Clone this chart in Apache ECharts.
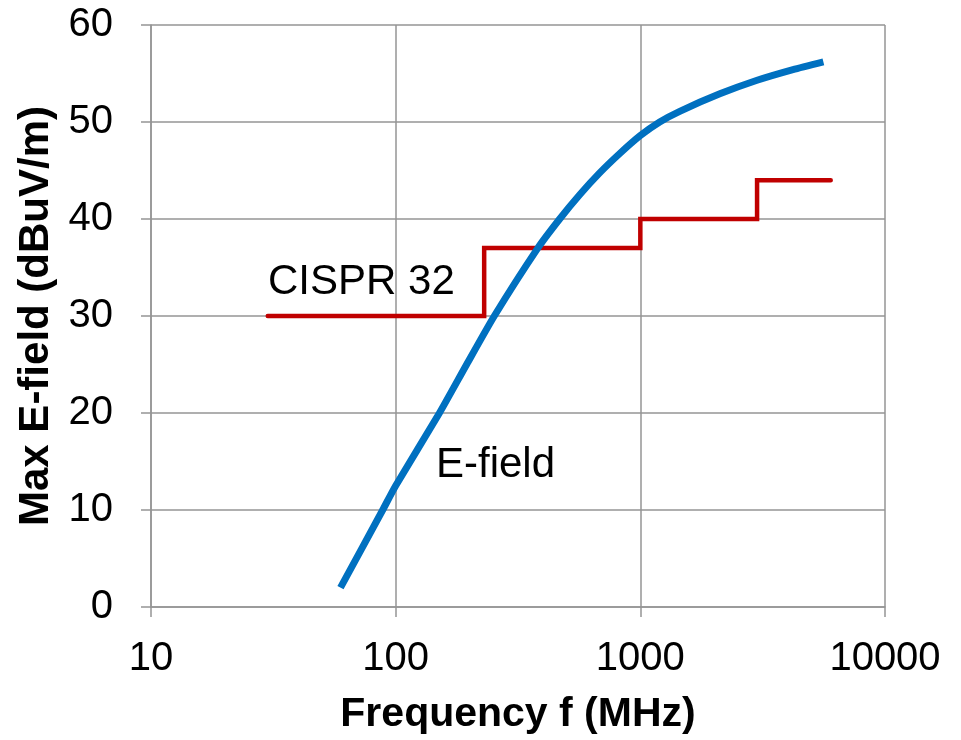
<!DOCTYPE html>
<html>
<head>
<meta charset="utf-8">
<script src="https://cdn.jsdelivr.net/npm/echarts@6/dist/echarts.min.js"></script>
<style>
html,body{margin:0;padding:0;background:#fff;}
#chart{width:961px;height:740px;}
</style>
</head>
<body>
<div id="chart"></div>
<script>
// E-field curve (frequency MHz, dBuV/m)
var efieldFreq = [59.5, 88.5, 100, 151, 195, 253, 381, 468, 565, 682, 824, 1000, 1200, 1449, 2113, 3000, 4207, 5600];
var efieldLevel = [2.0, 10, 12.5, 20, 25.0, 30, 37, 40, 42.5, 44.75, 46.75, 48.6, 50, 51.1, 52.9, 54.3, 55.4, 56.2];
// CISPR 32 limit (step line)
var cisprFreq = [30, 230, 230, 1000, 1000, 3000, 3000, 6000];
var cisprLimit = [30, 30, 37, 37, 40, 40, 44, 44];
var xTicks = [10, 100, 1000, 10000];
var yTicks = [0, 10, 20, 30, 40, 50, 60];

function pairs(xs, ys) { return xs.map(function (x, i) { return [x, ys[i]]; }); }

var font = "'Liberation Sans', Arial, sans-serif";
var gridColor = '#959595';
var chart = echarts.init(document.getElementById('chart'));
chart.setOption({
  animation: false,
  backgroundColor: '#ffffff',
  grid: { left: 151, right: 76, top: 25, bottom: 130, containLabel: false },
  xAxis: {
    type: 'log', logBase: 10, min: xTicks[0], max: xTicks[xTicks.length - 1],
    name: 'Frequency f (MHz)', nameLocation: 'middle', nameGap: 87,
    nameTextStyle: { fontFamily: font, fontSize: 41, fontWeight: 'bold', color: '#000' },
    axisLine: { show: true, onZero: false, lineStyle: { color: gridColor, width: 1.5 } },
    axisTick: { show: true, length: 10, lineStyle: { color: gridColor, width: 1.5 } },
    minorTick: { show: false },
    axisLabel: { fontFamily: font, fontSize: 40, color: '#000', margin: 32,
      formatter: function (v) { return String(Math.round(v)); } },
    splitLine: { show: true, lineStyle: { color: gridColor, width: 1.5 } }
  },
  yAxis: {
    type: 'value', min: yTicks[0], max: yTicks[yTicks.length - 1], interval: 10,
    name: 'Max E-field (dBuV/m)', nameLocation: 'middle', nameGap: 91,
    nameTextStyle: { fontFamily: font, fontSize: 42, fontWeight: 'bold', color: '#000' },
    axisLine: { show: true, lineStyle: { color: gridColor, width: 1.5 } },
    axisTick: { show: true, length: 10, lineStyle: { color: gridColor, width: 1.5 } },
    axisLabel: { fontFamily: font, fontSize: 40, color: '#000', margin: 38 },
    splitLine: { show: true, lineStyle: { color: gridColor, width: 1.5 } }
  },
  series: [
    {
      name: 'CISPR 32', type: 'line', data: pairs(cisprFreq, cisprLimit),
      showSymbol: false, symbol: 'none',
      lineStyle: { color: '#C00000', width: 4.5, cap: 'round', join: 'miter' },
      z: 3
    },
    {
      name: 'E-field', type: 'line', data: pairs(efieldFreq, efieldLevel),
      showSymbol: false, symbol: 'none', smooth: 0.2,
      lineStyle: { color: '#0070C0', width: 7, join: 'round' },
      z: 4
    }
  ],
  graphic: [
    { type: 'text', left: 268, top: 261, style: { text: 'CISPR 32', fontFamily: font, fontSize: 42, fill: '#000' } },
    { type: 'text', left: 436, top: 444, style: { text: 'E-field', fontFamily: font, fontSize: 42, fill: '#000' } }
  ]
});
</script>
</body>
</html>
